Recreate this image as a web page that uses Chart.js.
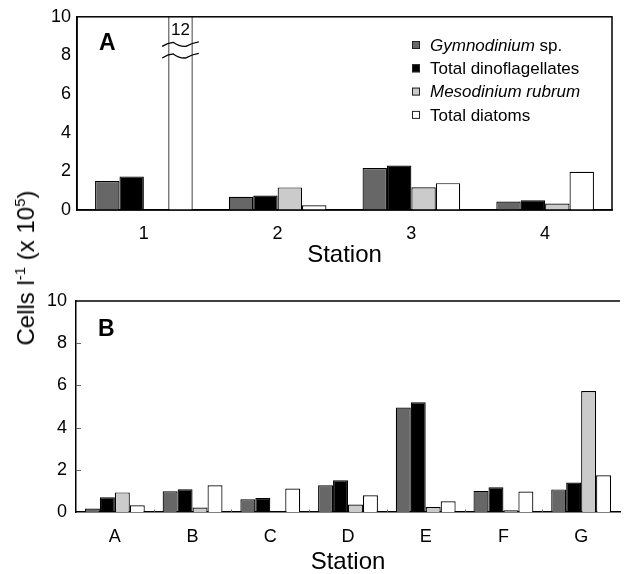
<!DOCTYPE html>
<html>
<head>
<meta charset="utf-8">
<script src="https://cdn.jsdelivr.net/npm/chart.js@4.4.1/dist/chart.umd.min.js"></script>
<style>
body { margin: 0; background: #fff; }
#wrap { position: relative; width: 625px; height: 574px; font-family: "Liberation Sans", Arial, sans-serif; }
canvas { position: absolute; left: 0; }
#ytitle { position: absolute; left: 25px; top: 268px; transform: translate(-50%, -50%) rotate(-90deg);
  font-size: 24px; white-space: nowrap; line-height: 1; }
#ytitle sup { font-size: 15px; }
</style>
</head>
<body>
<div id="wrap">
  <canvas id="chartA" width="625" height="272" style="top:0"></canvas>
  <canvas id="chartB" width="625" height="294" style="top:280px"></canvas>
  <div id="ytitle">Cells l<sup>-1</sup> (x 10<sup>5</sup>)</div>
</div>
<script>
// values in cells l-1 (x 10^5)
const stationsA = ['1', '2', '3', '4'];
const gymnoA = [1.5, 0.68, 2.17, 0.44];
const dinoA = [1.74, 0.75, 2.3, 0.51];
const mesoA = [0, 1.17, 1.18, 0.34];
const diatomA = [12, 0.24, 1.39, 1.98];   // station 1 goes off scale (broken bar)

const stationsB = ['A', 'B', 'C', 'D', 'E', 'F', 'G'];
const gymnoB = [0.16, 0.98, 0.6, 1.27, 4.95, 1.0, 1.07];
const dinoB = [0.7, 1.08, 0.66, 1.5, 5.2, 1.17, 1.4];
const mesoB = [0.93, 0.21, 0, 0.35, 0.24, 0.08, 5.73];
const diatomB = [0.32, 1.27, 1.11, 0.79, 0.51, 0.97, 1.74];

const yTicks = [0, 2, 4, 6, 8, 10];
const seriesNames = ['Gymnodinium sp.', 'Total dinoflagellates', 'Mesodinium rubrum', 'Total diatoms'];
const colors = ['#676767', '#000000', '#cbcbcb', '#ffffff'];

const FONT = '"Liberation Sans", Arial, sans-serif';
Chart.defaults.font.family = FONT;
Chart.defaults.color = '#000';

function datasets(arrs) {
  return arrs.map((d, i) => ({
    label: seriesNames[i],
    data: d,
    backgroundColor: colors[i],
    borderColor: '#000',
    borderWidth: 1.2
  }));
}

function options(o) {
  return {
    responsive: false,
    animation: false,
    layout: { padding: o.padding },
    plugins: { legend: { display: false }, tooltip: { enabled: false } },
    datasets: { bar: { barPercentage: 1, categoryPercentage: o.catPct } },
    scales: {
      x: {
        grid: { display: false, drawTicks: false },
        border: { color: '#000', width: 1.5 },
        ticks: { font: { size: 18 }, padding: o.xPad, color: '#000' },
        title: { display: true, text: 'Station', font: { size: 24, lineHeight: 1 },
                 padding: { top: 0, bottom: o.titlePad } },
        afterFit(s) { s.height = 62; }
      },
      y: {
        min: 0, max: 10,
        afterBuildTicks(s) { s.ticks = yTicks.map(v => ({ value: v })); },
        grid: { display: false, drawTicks: false },
        border: { color: '#000', width: 1.5 },
        ticks: { font: { size: 18 }, padding: o.yPad, color: '#000' },
        afterFit(s) { s.width = o.yWidth; }
      }
    }
  };
}

// legend drawn by hand so genus names can be italic
const legendParts = [
  [['Gymnodinium', true], [' sp.', false]],
  [['Total dinoflagellates', false]],
  [['Mesodinium rubrum', true]],
  [['Total diatoms', false]]
];

function drawTilde(ctx, x0, x1, y) {
  const L = x1 - x0;
  ctx.beginPath();
  ctx.moveTo(x0, y + 2.5);
  ctx.quadraticCurveTo(x0 + 0.15 * L, y - 1, x0 + 0.3 * L, y - 1.5);
  ctx.quadraticCurveTo(x0 + 0.47 * L, y + 3, x0 + 0.65 * L, y + 2.5);
  ctx.quadraticCurveTo(x0 + 0.82 * L, y - 1, x1, y - 2);
  ctx.stroke();
}

const panelA = {
  id: 'panelA',
  afterDraw(chart) {
    const { ctx, chartArea: a } = chart;
    const y = chart.scales.y;
    ctx.save();
    ctx.strokeStyle = '#000';
    ctx.lineWidth = 1.5;
    ctx.strokeRect(a.left, a.top, a.right - a.left, a.bottom - a.top);

    // broken bar marks + value
    const bar = chart.getDatasetMeta(3).data[0];
    const half = bar.width * 0.75;
    ctx.lineWidth = 1.3;
    drawTilde(ctx, bar.x - half, bar.x + half, y.getPixelForValue(8.6));
    drawTilde(ctx, bar.x - half, bar.x + half, y.getPixelForValue(8.0));
    ctx.fillStyle = '#000';
    ctx.textAlign = 'center';
    ctx.textBaseline = 'middle';
    ctx.font = '17px ' + FONT;
    ctx.fillText(String(diatomA[0]), bar.x, y.getPixelForValue(9.3));

    // panel letter
    ctx.textAlign = 'left';
    ctx.font = 'bold 23px ' + FONT;
    ctx.fillText('A', 99, 44);

    // legend
    let ly = 45;
    legendParts.forEach((parts, i) => {
      ctx.fillStyle = colors[i];
      ctx.fillRect(412, ly - 4, 8, 8);
      ctx.strokeStyle = '#222';
      ctx.lineWidth = 1;
      ctx.strokeRect(412.5, ly - 3.5, 7, 7);
      let tx = 430;
      ctx.fillStyle = '#000';
      parts.forEach(([t, it]) => {
        ctx.font = (it ? 'italic ' : '') + '17px ' + FONT;
        ctx.fillText(t, tx, ly + 1);
        tx += ctx.measureText(t).width;
      });
      ly += 23.3;
    });
    ctx.restore();
  }
};

const panelB = {
  id: 'panelB',
  afterDraw(chart) {
    const { ctx, chartArea: a } = chart;
    const x = chart.scales.x, y = chart.scales.y;
    ctx.save();
    ctx.strokeStyle = '#000';
    ctx.lineWidth = 1.5;
    ctx.beginPath();
    ctx.moveTo(a.left, a.top);
    ctx.lineTo(a.right, a.top);
    ctx.stroke();

    // small inward ticks
    ctx.strokeStyle = '#666';
    ctx.lineWidth = 1;
    ctx.beginPath();
    yTicks.slice(1, -1).forEach(v => {
      const py = Math.round(y.getPixelForValue(v)) + 0.5;
      ctx.moveTo(a.left, py);
      ctx.lineTo(a.left + 5, py);
    });
    for (let i = 1; i < stationsB.length; i++) {
      const px = Math.round((x.getPixelForValue(i - 1) + x.getPixelForValue(i)) / 2) + 0.5;
      ctx.moveTo(px, a.bottom);
      ctx.lineTo(px, a.bottom - 2.5);
    }
    ctx.stroke();

    ctx.fillStyle = '#000';
    ctx.textAlign = 'left';
    ctx.textBaseline = 'middle';
    ctx.font = 'bold 23px ' + FONT;
    ctx.fillText('B', 98, 50);
    ctx.restore();
  }
};

new Chart(document.getElementById('chartA'), {
  type: 'bar',
  data: { labels: stationsA, datasets: datasets([gymnoA, dinoA, mesoA, diatomA]) },
  options: options({ padding: { left: 0, right: 13, top: 13, bottom: 0 }, catPct: 0.73,
                     xPad: 13, yPad: 6, yWidth: 77, titlePad: 5 }),
  plugins: [panelA]
});

new Chart(document.getElementById('chartB'), {
  type: 'bar',
  data: { labels: stationsB, datasets: datasets([gymnoB, dinoB, mesoB, diatomB]) },
  options: options({ padding: { left: 0, right: 5, top: 21, bottom: 0 }, catPct: 0.77,
                     xPad: 14, yPad: 9, yWidth: 76, titlePad: 0 }),
  plugins: [panelB]
});
</script>
</body>
</html>
